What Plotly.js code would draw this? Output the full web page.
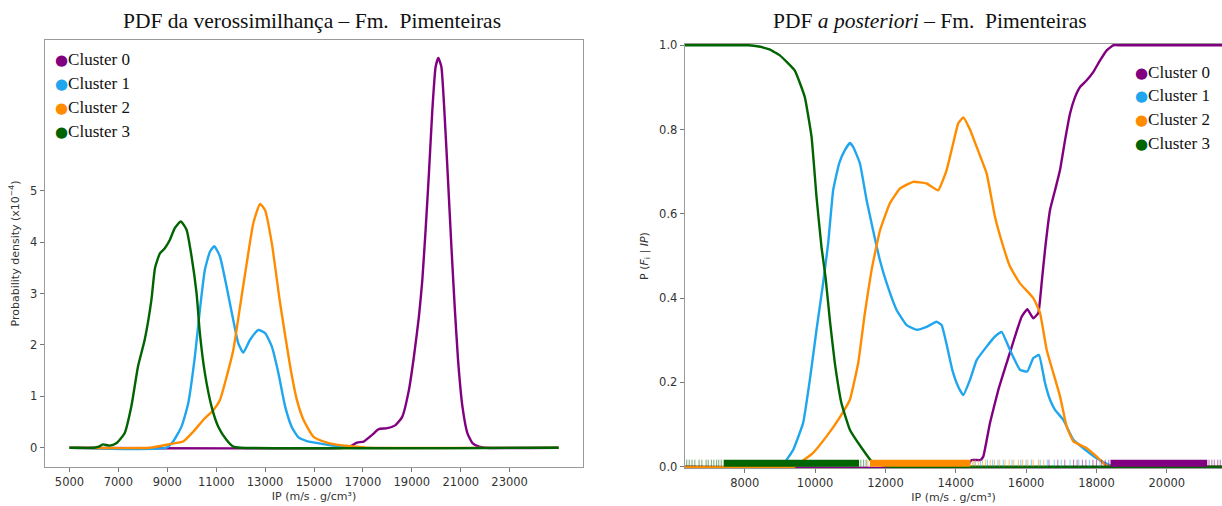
<!DOCTYPE html>
<html>
<head>
<meta charset="utf-8">
<script src="https://cdn.plot.ly/plotly-3.0.1.min.js"></script>
<style>html,body{margin:0;padding:0;background:#fff;}#chart{width:1222px;height:506px;}</style>
</head>
<body>
<div id="chart"></div>
<script>
// ---------- data ----------
const clusterNames = ["Cluster 0", "Cluster 1", "Cluster 2", "Cluster 3"];
const clusterColors = ["#800080", "#1fa6ee", "#ff8c00", "#006400"];

// Left: likelihood PDF (x1e-4)
const ipL0 = [5000,16200,16487,16761,17034,17377,17648,17993,18333,18608,18880,19085,19290,19429,19564,19700,19839,19974,20085,20208,20344,20480,20619,20754,20890,21070,21275,21480,21751,22000,25000];
const pdfL0 = [0,0,0.03,0.1,0.12,0.25,0.36,0.38,0.44,0.6,1.12,1.77,2.55,3.26,4.24,5.34,6.57,7.41,7.58,7.41,6.44,5.21,3.91,2.74,1.71,0.8,0.28,0.09,0.02,0,0];
const ipL1 = [5000,8966,9240,9582,9855,10128,10333,10538,10744,10920,11154,11427,11700,11905,12110,12385,12726,13000,13274,13545,13821,14094,14366,14710,15392,15939,16487,25000];
const pdfL1 = [0,0,0.12,0.41,0.86,1.77,2.68,3.46,3.81,3.92,3.72,3.13,2.48,2.03,1.85,2.1,2.29,2.23,1.97,1.45,0.8,0.4,0.2,0.13,0.07,0.03,0,0];
const ipL2 = [5000,8282,9103,9650,10060,10470,10880,11154,11427,11700,11974,12250,12520,12795,13000,13274,13615,14026,14300,14573,14983,15531,16077,16761,17200,25000];
const pdfL2 = [0,0,0.07,0.12,0.31,0.54,0.73,0.93,1.38,1.9,2.74,3.59,4.37,4.74,4.62,3.98,2.81,1.58,0.93,0.54,0.21,0.1,0.05,0.02,0,0];
const ipL3 = [5000,6000,6200,6367,6641,6914,7256,7530,7803,8077,8350,8500,8700,8900,9103,9308,9554,9788,9993,10198,10333,10538,10812,11085,11427,11700,12000,25000];
const pdfL3 = [0,0,0.02,0.066,0.04,0.085,0.28,0.8,1.58,2.1,2.87,3.5,3.78,3.88,4.04,4.27,4.4,4.24,3.72,3.0,2.23,1.45,0.8,0.41,0.15,0.02,0,0];

// Right: posterior probability
const ipR0 = [6300,14300,14350,14450,14700,14781,14972,15209,15446,15683,15873,16034,16205,16347,16442,16537,16680,16822,16964,17107,17249,17391,17533,17723,17913,18102,18292,18482,18700,19200,20500,21570];
const postR0 = [0,0,0.005,0.016,0.016,0.024,0.104,0.182,0.246,0.309,0.356,0.374,0.352,0.365,0.436,0.514,0.609,0.656,0.704,0.775,0.838,0.877,0.901,0.917,0.937,0.964,0.988,1.0,1.0,1.0,1.0,1.0];
const ipR1 = [6300,9000,9091,9376,9660,9850,10040,10228,10371,10513,10684,10846,10988,11082,11273,11463,11651,11842,12032,12317,12602,12886,13171,13455,13598,13740,13900,14070,14213,14403,14593,14877,15114,15304,15541,15826,16034,16205,16367,16537,16680,16822,17059,17343,17628,18008,18338,18500,21570];
const postR1 = [0,0,0.005,0.04,0.104,0.206,0.325,0.436,0.53,0.656,0.72,0.751,0.768,0.759,0.72,0.633,0.56,0.49,0.436,0.372,0.336,0.325,0.332,0.344,0.336,0.29,0.23,0.19,0.17,0.206,0.253,0.285,0.309,0.32,0.277,0.23,0.226,0.258,0.265,0.199,0.159,0.135,0.111,0.064,0.044,0.02,0.005,0,0];
const ipR2 = [6300,9400,9500,9944,10325,10655,10988,11225,11415,11606,11842,12126,12411,12790,13171,13501,13740,13928,14070,14213,14403,14593,14877,15114,15351,15541,15826,16205,16395,16585,16775,16964,17154,17343,17723,18008,18245,18400,21570];
const postR2 = [0,0,0.005,0.033,0.072,0.111,0.159,0.246,0.365,0.467,0.56,0.625,0.66,0.676,0.672,0.656,0.704,0.768,0.815,0.829,0.8,0.759,0.696,0.593,0.522,0.475,0.435,0.4,0.365,0.277,0.222,0.167,0.095,0.06,0.044,0.024,0.005,0,0];
const ipR3 = [6300,7200,8100,8400,8700,8996,9423,9707,9898,10040,10183,10296,10419,10561,10751,10988,11321,11606,11936,12100,12400,21570];
const postR3 = [1,1,1,0.997,0.99,0.976,0.94,0.877,0.783,0.64,0.52,0.45,0.348,0.246,0.15,0.088,0.045,0.013,0.003,0,0,0];

// Rug (observations along IP axis)
const rugDenseStart = [18400, null, 11560, 7400];
const rugDenseEnd   = [21150, null, 14420, 11250];
const rugSparse0 = [16650,16900,17100,17350,17450,17600,17700,17900,18000,18150,18250,18350,21200,21280,21350,21450,21520];
const rugSparse1 = [14520,14700,14900,15050,15200,15350,15600,15850,16000,16150,16400,16600,16800,17000,17250,17500,17800,18100];
const rugSparse2 = [11500,14480,14560,14640,14760,14850,14980,15100,15250,15400,15520,15650,15780,15900,16050,16200,16350,16500];
const rugSparse3 = [6350,6420,6500,6580,6700,6780,6900,6960,7050,7120,7200,7260,7330,11300,11380,11450];

const xTicksLeft = [5000,7000,9000,11000,13000,15000,17000,19000,21000,23000];
const yTicksLeft = [0,1,2,3,4,5];
const xTicksRight = [8000,10000,12000,14000,16000,18000,20000];
const yTicksRight = [0,0.2,0.4,0.6,0.8,1.0];

// ---------- build ----------
const W = 1222, H = 506;
const leftX = [ipL0, ipL1, ipL2, ipL3], leftY = [pdfL0, pdfL1, pdfL2, pdfL3];
const rightX = [ipR0, ipR1, ipR2, ipR3], rightY = [postR0, postR1, postR2, postR3];
const rugSparse = [rugSparse0, rugSparse1, rugSparse2, rugSparse3];
const RUG_Y = 0.0085;

const traces = [];
for (let i = 0; i < 4; i++) {
  traces.push({x: leftX[i], y: leftY[i], type: 'scatter', mode: 'lines', name: clusterNames[i],
    line: {color: clusterColors[i], width: 2.4, shape: 'spline', smoothing: 0.5},
    xaxis: 'x', yaxis: 'y', showlegend: false, hoverinfo: 'skip'});
}
for (let i = 0; i < 4; i++) {
  traces.push({x: rightX[i], y: rightY[i], type: 'scatter', mode: 'lines', name: clusterNames[i],
    line: {color: clusterColors[i], width: 2.4, shape: 'spline', smoothing: 0.35},
    xaxis: 'x2', yaxis: 'y2', showlegend: false, hoverinfo: 'skip'});
}
for (let i = 0; i < 4; i++) {
  if (rugDenseStart[i] !== null) {
    traces.push({x: [rugDenseStart[i], rugDenseEnd[i]], y: [RUG_Y, RUG_Y], type: 'scatter', mode: 'lines',
      line: {color: clusterColors[i], width: 7}, xaxis: 'x2', yaxis: 'y2', showlegend: false, hoverinfo: 'skip'});
  }
  traces.push({x: rugSparse[i], y: rugSparse[i].map(() => RUG_Y), type: 'scatter', mode: 'markers',
    marker: {symbol: 'line-ns', size: 5, line: {width: 1, color: clusterColors[i]}}, opacity: 0.55,
    xaxis: 'x2', yaxis: 'y2', showlegend: false, hoverinfo: 'skip'});
}

const tickFont = {family: 'DejaVu Sans', size: 11.5, color: '#333'};
const axTitleFont = {family: 'DejaVu Sans', size: 11, color: '#333'};
const axisCommon = {showline: true, linecolor: '#9a9a9a', linewidth: 1.3, mirror: true, showgrid: false,
  zeroline: false, ticks: 'outside', ticklen: 4, tickcolor: '#777', tickfont: tickFont};

const px2x = p => p / W, px2y = p => 1 - p / H;

const annotations = [
  {text: 'PDF da verossimilhança – Fm.\u00a0 Pimenteiras', xref: 'paper', yref: 'paper', x: px2x(312), y: px2y(21),
   xanchor: 'center', yanchor: 'middle', showarrow: false, font: {family: 'Liberation Serif', size: 21.5, color: '#111'}},
  {text: 'PDF <i>a posteriori</i> – Fm.\u00a0 Pimenteiras', xref: 'paper', yref: 'paper', x: px2x(930), y: px2y(21),
   xanchor: 'center', yanchor: 'middle', showarrow: false, font: {family: 'Liberation Serif', size: 21.5, color: '#111'}}
];
const legLeft = {x: 53, y0: 60, dy: 23.7};
const legRight = {x: 1133, y0: 72, dy: 23.7};
[legLeft, legRight].forEach(L => {
  clusterNames.forEach((n, i) => {
    annotations.push({text: '<span style="color:' + clusterColors[i] + ';font-family:DejaVu Sans;font-size:15px">●</span>' + n,
      xref: 'paper', yref: 'paper', x: px2x(L.x), y: px2y(L.y0 + i * L.dy), xanchor: 'left', yanchor: 'middle',
      showarrow: false, font: {family: 'Liberation Serif', size: 17, color: '#111'}});
  });
});

const layout = {
  width: W, height: H, margin: {l: 0, r: 0, t: 0, b: 0}, paper_bgcolor: '#fff', plot_bgcolor: '#fff',
  showlegend: false,
  xaxis: Object.assign({}, axisCommon, {domain: [px2x(45), px2x(583)], range: [4000, 26000], anchor: 'y',
    tickvals: xTicksLeft, ticktext: xTicksLeft.map(String),
    title: {text: 'IP (m/s . g/cm³)', font: axTitleFont, standoff: 4}}),
  yaxis: Object.assign({}, axisCommon, {domain: [1 - 467 / H, 1 - 40 / H], range: [-0.375, 7.93], anchor: 'x',
    tickvals: yTicksLeft, ticktext: yTicksLeft.map(String),
    title: {text: 'Probability density (x10<sup>−4</sup>)', font: axTitleFont, standoff: 8}}),
  xaxis2: Object.assign({}, axisCommon, {domain: [px2x(685), 1], range: [6300, 21570], anchor: 'y2',
    tickvals: xTicksRight, ticktext: xTicksRight.map(String),
    title: {text: 'IP (m/s . g/cm³)', font: axTitleFont, standoff: 4}}),
  yaxis2: Object.assign({}, axisCommon, {domain: [1 - 468 / H, 1 - 44 / H], range: [-0.003, 1.003], anchor: 'x2',
    tickvals: yTicksRight, ticktext: yTicksRight.map(v => v.toFixed(1)),
    title: {text: 'P (<i>F</i><sub>i</sub> | <i>IP</i>)', font: axTitleFont, standoff: 8}}),
  annotations: annotations
};

Plotly.newPlot('chart', traces, layout, {staticPlot: true, displayModeBar: false});
</script>
</body>
</html>
